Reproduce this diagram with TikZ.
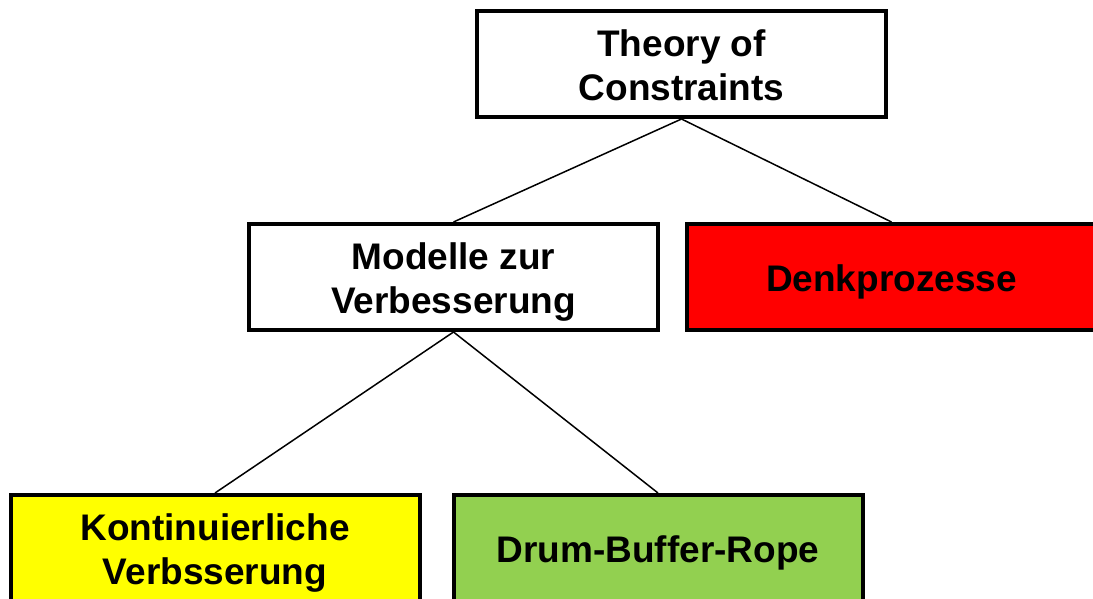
\documentclass[tikz,border=0pt]{standalone}
\usepackage{fontspec}
\setmainfont{Liberation Sans}
\definecolor{boxred}{HTML}{FF0000}
\definecolor{boxyellow}{HTML}{FFFF00}
\definecolor{boxgreen}{HTML}{92D050}
% centred lines, set a little low in the box without changing its size
\newcommand\boxlines[1]{\raisebox{-6pt}[\height][\depth]{\begin{tabular}{@{}c@{}}#1\end{tabular}}}
\begin{document}
\begin{tikzpicture}[x=1pt,y=1pt,
  topicbox/.style={draw=black, line width=4pt, rectangle,
    minimum width=409pt, minimum height=106pt, inner sep=0pt,
    align=center, font=\fontsize{37}{44}\selectfont\bfseries},
  link/.style={draw=black, line width=1.5pt}]
  \useasboundingbox (0,0) rectangle (1093,-599);
  \begin{scope}
    \clip (0,0) rectangle (1093,-599);
    \node[topicbox, fill=white] (toc) at (681.5,-64) {\boxlines{Theory of\\Constraints}};
    \node[topicbox, fill=white] (mod) at (453.5,-277) {\boxlines{Modelle zur\\Verbesserung}};
    \node[topicbox, fill=boxred] (denk) at (891.5,-277) {\boxlines{Denkprozesse}};
    \node[topicbox, fill=boxyellow] (kvb) at (215,-548) {\boxlines{Kontinuierliche\\Verbsserung}};
    \node[topicbox, fill=boxgreen] (dbr) at (658,-548) {\boxlines{Drum-Buffer-Rope}};
    \draw[link] (toc.south) -- (mod.north);
    \draw[link] (toc.south) -- (denk.north);
    \draw[link] (mod.south) -- (kvb.north);
    \draw[link] (mod.south) -- (dbr.north);
  \end{scope}
\end{tikzpicture}
\end{document}
